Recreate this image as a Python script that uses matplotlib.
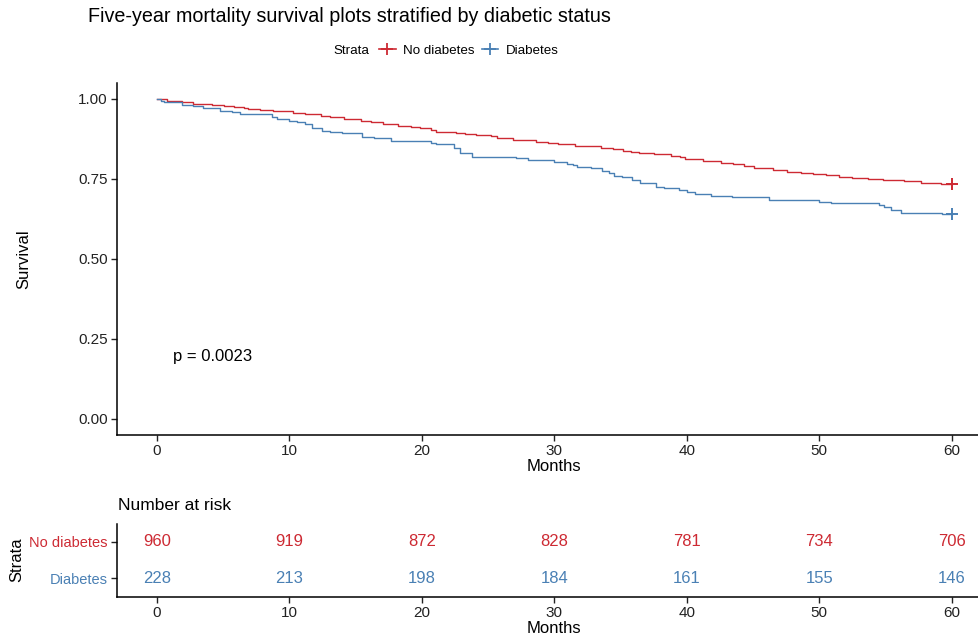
import matplotlib
matplotlib.use("Agg")
import matplotlib.pyplot as plt
from matplotlib.lines import Line2D

plt.rcParams["font.family"] = ["Liberation Sans", "DejaVu Sans"]

# Kaplan-Meier step points (months, survival)
red_t = [0, 0.8, 1.9, 2.7, 4.2, 5.1, 5.8, 6.6, 6.9, 7.8, 8.8, 10.3, 11.2, 12.4, 13.1, 14.1, 15.4, 16.2, 17.1, 18.2,
         19.2, 19.9, 20.7, 21.1, 22.6, 23.3, 24.1, 25.2, 25.7, 26.9, 28.6, 29.5, 30.3, 31.6, 33.5, 34.4, 35.2, 35.8, 36.4, 37.5,
         38.8, 39.5, 39.9, 41.2, 42.6, 43.5, 44.3, 45.1, 46.5, 47.6, 48.6, 49.5, 50.5, 51.5, 52.5, 53.7, 54.8, 56.4, 57.7, 58.6,
         59.2, 60]
red_s = [1.0, 0.994, 0.990, 0.984, 0.981, 0.978, 0.976, 0.973, 0.969, 0.966, 0.963, 0.957, 0.952, 0.948, 0.943, 0.937, 0.932, 0.927, 0.922, 0.917,
         0.912, 0.908, 0.903, 0.898, 0.895, 0.890, 0.8875, 0.884, 0.877, 0.871, 0.867, 0.8625, 0.858, 0.853, 0.848, 0.844, 0.838, 0.834, 0.832, 0.827,
         0.823, 0.818, 0.8125, 0.807, 0.801, 0.797, 0.791, 0.784, 0.778, 0.773, 0.770, 0.766, 0.762, 0.757, 0.753, 0.750, 0.747, 0.743, 0.738, 0.737,
         0.733, 0.733]

blue_t = [0, 0.3, 0.55, 1.9, 2.7, 3.5, 4.8, 5.7, 6.3, 8.7, 9.1, 10.0, 10.6, 11.2, 11.75, 12.5, 13.1, 14.0, 15.5, 16.4,
          17.7, 20.7, 21.1, 22.4, 22.9, 23.8, 27.1, 28.0, 30.0, 31.0, 31.4, 31.75, 32.75, 33.6, 34.1, 34.5, 35.1, 35.9, 36.5, 37.7,
          38.3, 39.4, 40.05, 40.6, 41.8, 43.4, 46.2, 50.0, 50.9, 54.5, 54.9, 55.4, 56.2, 59.3, 60]
blue_s = [1.0, 0.995, 0.990, 0.981, 0.977, 0.972, 0.963, 0.958, 0.953, 0.945, 0.9375, 0.932, 0.927, 0.921, 0.910, 0.901, 0.896, 0.893, 0.882, 0.877,
          0.870, 0.863, 0.858, 0.846, 0.830, 0.820, 0.815, 0.809, 0.804, 0.798, 0.794, 0.7875, 0.783, 0.775, 0.768, 0.759, 0.756, 0.747, 0.737, 0.726,
          0.721, 0.716, 0.708, 0.703, 0.698, 0.693, 0.683, 0.677, 0.674, 0.669, 0.662, 0.653, 0.645, 0.641, 0.641]

strata = ["No diabetes", "Diabetes"]
risk_times = [0, 10, 20, 30, 40, 50, 60]
risk_nodiab = [960, 919, 872, 828, 781, 734, 706]
risk_diab = [228, 213, 198, 184, 161, 155, 146]
p_text = "p = 0.0023"

RED = "#CD2A33"
BLUE = "#4A80B4"
W, H = 979, 642

fig = plt.figure(figsize=(W / 100, H / 100), dpi=100)


def px_axes(left, top, right, bottom):
    return fig.add_axes([left / W, 1 - bottom / H, (right - left) / W, (bottom - top) / H])


def style(ax):
    for s in ["top", "right"]:
        ax.spines[s].set_visible(False)
    for s in ["left", "bottom"]:
        ax.spines[s].set_linewidth(1.1)
    ax.tick_params(direction="out", length=4, width=1.0, pad=2.5, labelsize=11, colors="#222222")
    ax.set_xlim(-3, 63)
    ax.set_xticks(risk_times)


# survival curves
ax = px_axes(117, 83, 991.5, 435)
style(ax)
ax.step(red_t, red_s, where="post", color=RED, lw=1.0)
ax.step(blue_t, blue_s, where="post", color=BLUE, lw=1.0)
ax.plot(red_t[-1], red_s[-1], marker="+", color=RED, ms=9, mew=1.4)
ax.plot(blue_t[-1], blue_s[-1], marker="+", color=BLUE, ms=9, mew=1.4)
ax.set_ylim(-0.05, 1.05)
ax.set_yticks([0, 0.25, 0.5, 0.75, 1.0])
ax.set_yticklabels(["0.00", "0.25", "0.50", "0.75", "1.00"])
ax.set_xlabel("Months", fontsize=12, labelpad=1)
ax.set_ylabel("Survival", fontsize=12, labelpad=34)
ax.text(1.2, 0.194, p_text, fontsize=12, va="center", ha="left")

fig.text(88 / W, 1 - 17 / H, "Five-year mortality survival plots stratified by diabetic status",
         fontsize=14.2, va="center", ha="left")

# legend
fig.text(333 / W, 1 - 51 / H, "Strata", fontsize=9.6, va="center", ha="left")
handles = [Line2D([], [], color=RED, marker="+", lw=1.2, ms=8, mew=1.3),
           Line2D([], [], color=BLUE, marker="+", lw=1.2, ms=8, mew=1.3)]
fig.legend(handles, strata, loc="center left", bbox_to_anchor=(379 / W, 1 - 51 / H), ncol=2,
           frameon=False, fontsize=9.6, handlelength=1.25, handletextpad=0.55, columnspacing=0.55,
           borderpad=0, borderaxespad=0)

# number at risk table
rt = px_axes(117, 523.5, 991.5, 596.7)
style(rt)
rt.set_ylim(0.5, 2.5)
rt.set_yticks([2, 1])
rt.set_yticklabels(strata)
for lab, c in zip(rt.get_yticklabels(), [RED, BLUE]):
    lab.set_color(c)
    lab.set_fontsize(10.5)
for t, n1, n2 in zip(risk_times, risk_nodiab, risk_diab):
    rt.text(t, 2, str(n1), color=RED, fontsize=12, ha="center", va="center")
    rt.text(t, 1, str(n2), color=BLUE, fontsize=12, ha="center", va="center")
rt.set_xlabel("Months", fontsize=12, labelpad=1)
rt.set_ylabel("Strata", fontsize=12, labelpad=4)
fig.text(118 / W, 1 - 505 / H, "Number at risk", fontsize=12.5, va="center", ha="left")

fig.savefig("out.png", dpi=100)
